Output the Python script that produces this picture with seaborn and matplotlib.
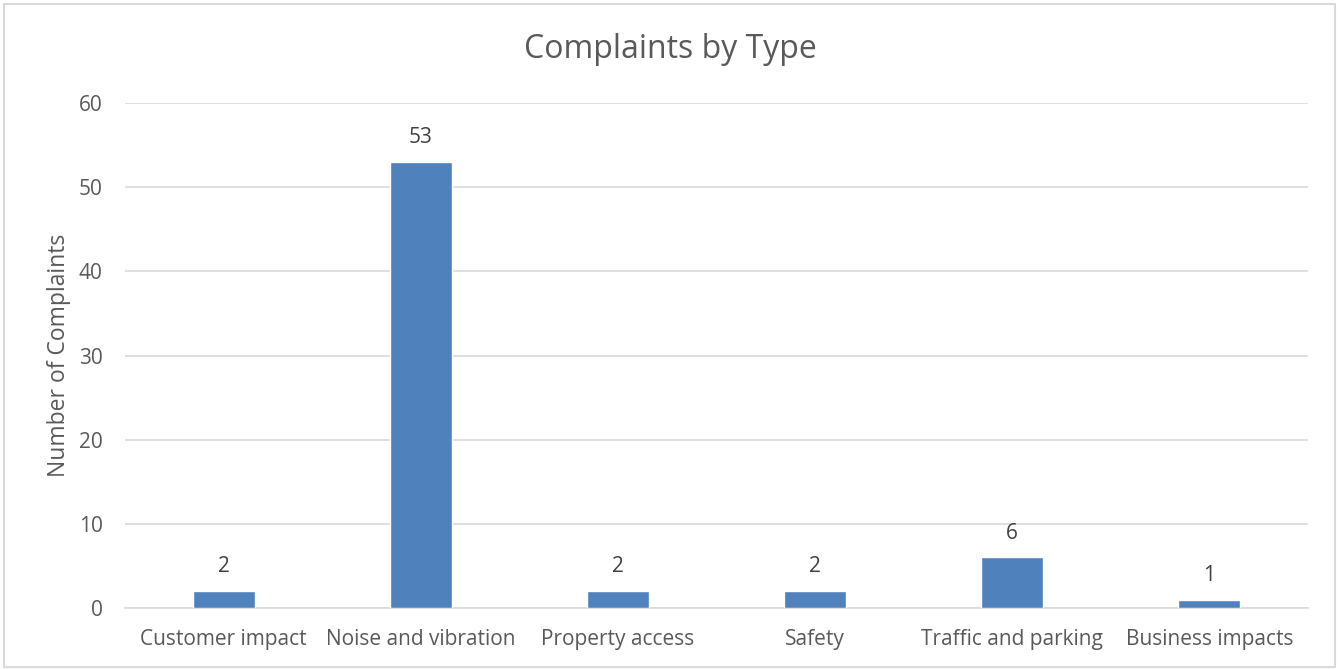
import matplotlib
matplotlib.use("Agg")
import matplotlib.pyplot as plt
import seaborn as sns
import pandas as pd
from matplotlib.patches import Rectangle

categories = ["Customer impact", "Noise and vibration", "Property access", "Safety",
              "Traffic and parking", "Business impacts"]
values = [2, 53, 2, 2, 6, 1]
yticks = [0, 10, 20, 30, 40, 50, 60]

sns.set_theme(style="white")
plt.rcParams['font.family'] = ['Open Sans', 'DejaVu Sans']

TXT = "#595959"
df = pd.DataFrame({"cat": categories, "val": values})

fig = plt.figure(figsize=(13.41, 6.69), dpi=100)
ax = fig.add_axes([0.0932, 0.0912, 0.9754 - 0.0932, 0.846 - 0.0912])
sns.barplot(data=df, x="cat", y="val", color="#4F81BD", saturation=1, width=0.315, ax=ax, zorder=3)

ax.set_ylim(0, 60)
ax.set_yticks(yticks)
ax.set_xlim(-0.5, len(categories) - 0.5)
ax.yaxis.grid(True, color="#D9D9D9", linewidth=1.2, zorder=0)
ax.xaxis.grid(False)
for s in ["top", "right", "left"]:
    ax.spines[s].set_visible(False)
ax.spines["bottom"].set_color("#D9D9D9")
ax.spines["bottom"].set_linewidth(1.2)
ax.tick_params(axis="both", colors=TXT, labelsize=15, length=0)
ax.tick_params(axis="x", pad=15)
ax.tick_params(axis="y", pad=16)
ax.set_xlabel("")
ax.set_ylabel("Number of Complaints", color=TXT, fontsize=16.5, labelpad=6)

for i, v in enumerate(values):
    ax.annotate(str(v), (i, v), xytext=(0, 10), textcoords="offset points",
                ha="center", va="bottom", color="#404040", fontsize=15)

fig.text(0.5, 0.926, "Complaints by Type", ha="center", va="center", color=TXT, fontsize=23)

fig.patches.append(Rectangle((0.003, 0.003), 0.9925, 0.991, transform=fig.transFigure,
                             fill=False, edgecolor="#D9D9D9", linewidth=1.5))

fig.savefig("out.png", dpi=100)
